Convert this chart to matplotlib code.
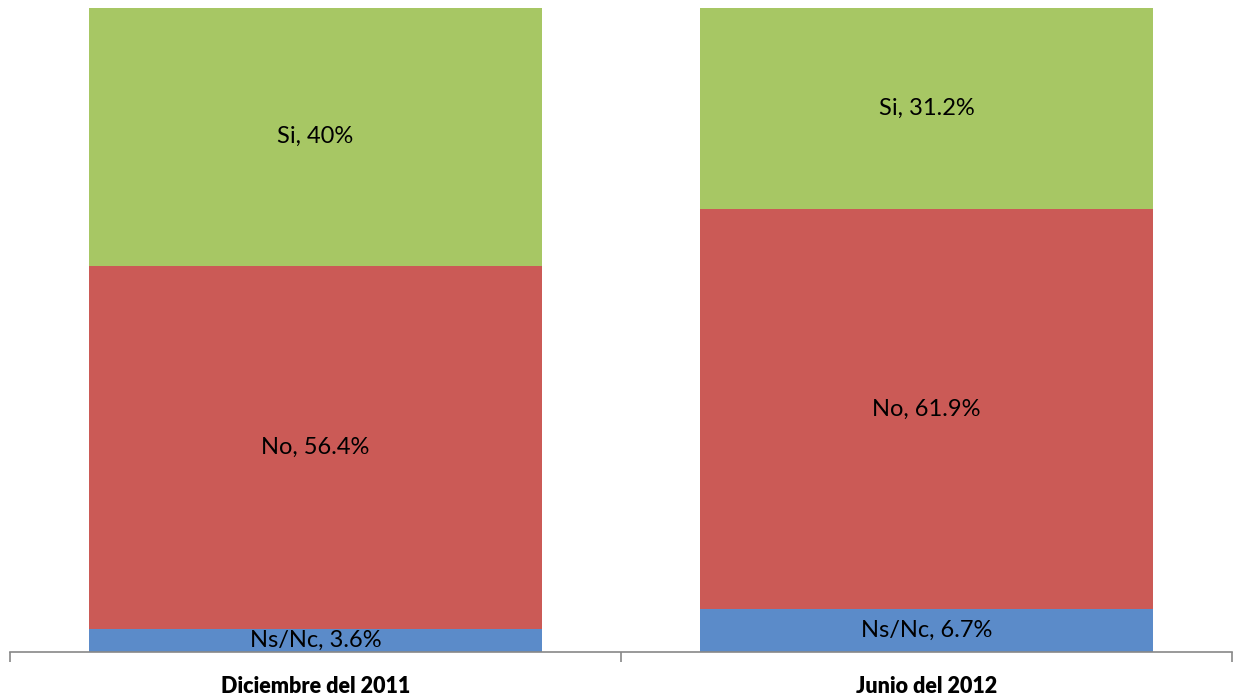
import matplotlib
matplotlib.use('Agg')
import matplotlib.pyplot as plt
import numpy as np

plt.rcParams['font.family'] = ['Lato', 'DejaVu Sans']

# Data
categorias = ['Diciembre del 2011', 'Junio del 2012']
series = ['Ns/Nc', 'No', 'Si']
ns_nc = [3.6, 6.7]
no = [56.4, 61.9]
si = [40.0, 31.2]
etiquetas = [['3.6%', '6.7%'], ['56.4%', '61.9%'], ['40%', '31.2%']]
colores = ['#5B8BC9', '#CB5A56', '#A7C764']

valores = np.array([ns_nc, no, si])
totales = valores.sum(axis=0)
pct = valores / totales * 100

fig = plt.figure(figsize=(12.35, 6.98), dpi=100, facecolor='white')
ax = fig.add_axes([10/1235, 1-652/698, 1222/1235, 644/698])

x = np.arange(len(categorias))
abajo = np.zeros(len(categorias))
for i, nombre in enumerate(series):
    barras = ax.bar(x, pct[i], bottom=abajo, width=0.74, color=colores[i], linewidth=0)
    for j in range(len(categorias)):
        ax.text(x[j], abajo[j] + pct[i][j]/2, nombre + ', ' + etiquetas[i][j],
                ha='center', va='center', fontsize=17, color='black')
    abajo += pct[i]

ax.set_xlim(-0.5, 1.5)
ax.set_ylim(0, 100)
ax.set_yticks([])
for s in ['left', 'right', 'top']:
    ax.spines[s].set_visible(False)
ax.spines['bottom'].set_color('#888888')
ax.spines['bottom'].set_linewidth(1.2)
ax.set_xticks([-0.5, 0.5, 1.5])
ax.set_xticklabels(['', '', ''])
ax.tick_params(axis='x', length=7, color='#888888', width=1.2)
ax.set_xticks(x, minor=True)
ax.set_xticklabels(categorias, minor=True, fontsize=15.5, fontweight='heavy')
ax.tick_params(axis='x', which='minor', length=0, pad=17)

fig.savefig('out.png', dpi=100)
